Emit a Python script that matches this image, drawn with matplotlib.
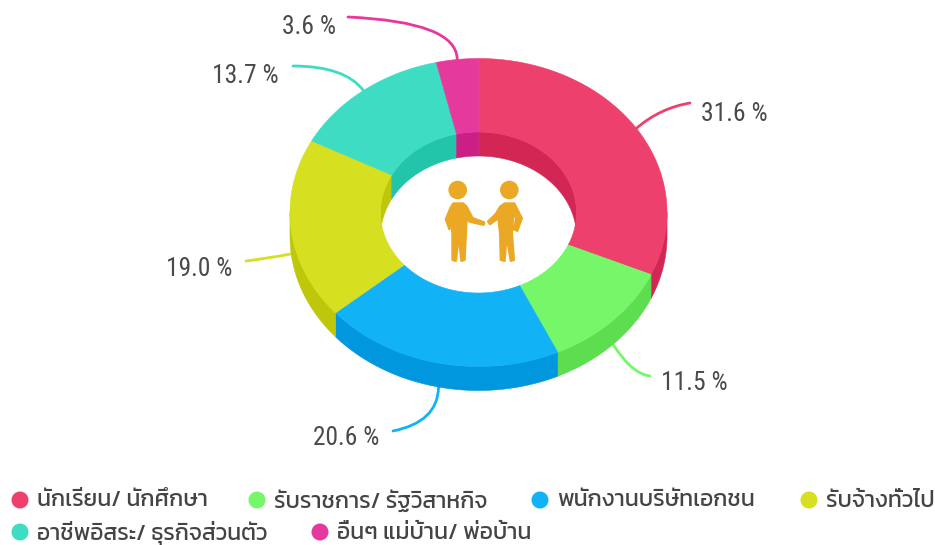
import numpy as np
import matplotlib
matplotlib.use("Agg")
import matplotlib.pyplot as plt
from matplotlib.patches import Polygon, Circle, PathPatch
from matplotlib.path import Path
import warnings, logging

logging.getLogger("matplotlib.font_manager").setLevel(logging.ERROR)
warnings.filterwarnings("ignore")

categories = ["นักเรียน/ นักศึกษา", "รับราชการ/ รัฐวิสาหกิจ", "พนักงานบริษัทเอกชน",
              "รับจ้างทั่วไป", "อาชีพอิสระ/ ธุรกิจส่วนตัว", "อื่นๆ แม่บ้าน/ พ่อบ้าน"]
values = [31.6, 11.5, 20.6, 19.0, 13.7, 3.6]
top_colors = ["#EE406C", "#76F76A", "#12B2F7", "#D6DF20", "#3EDDC3", "#E5399E"]
side_colors = ["#D22654", "#5DDD50", "#0097DE", "#BFC70A", "#22C4AA", "#CB1F85"]

# label left edge / centre y, leader elbow and end, all in pixels
label_pos = [(701, 114), (661, 383), (313, 438), (166, 269), (212, 76), (282, 27)]
leader_mid = [(660, 108), (632, 374), (438, 422), (270, 258), (345, 66), (457, 22)]
leader_end = [(690, 103), (650, 376), (393, 431), (246, 261), (293, 66), (348, 17)]
legend_pos = [(20, 500), (257, 500), (540, 500), (809, 500), (20, 532), (320, 532)]

cx, cy = 478.5, 212.5
rx, ry = 188.5, 154
irx, iry = 98, 80.5
depth = 24

thai_fonts = ["Kanit", "Prompt", "Noto Sans Thai", "Loma", "DejaVu Sans"]
num_fonts = ["Roboto Condensed", "Liberation Sans Narrow", "Roboto", "DejaVu Sans"]


def arc(a0, a1, w, h, dz=0):
    # angles are degrees clockwise from the top
    t = np.radians(np.linspace(a0, a1, max(int(abs(a1 - a0)) * 2, 2)))
    return np.column_stack([cx + w * np.sin(t), cy - h * np.cos(t) + dz])


def wall(ax, a0, a1, w, h, color, z):
    if a1 <= a0:
        return
    pts = np.vstack([arc(a0, a1, w, h), arc(a1, a0, w, h, depth)])
    ax.add_patch(Polygon(pts, fc=color, ec=color, lw=0.4, zorder=z))


fig = plt.figure(figsize=(9.35, 5.45), dpi=100)
ax = fig.add_axes([0, 0, 1, 1])
ax.set_xlim(0, 935)
ax.set_ylim(545, 0)
ax.axis("off")

edges = np.concatenate([[0], np.cumsum(values)]) * 360 / sum(values)

for i in range(len(values)):
    a0, a1 = edges[i], edges[i + 1]
    # inner wall only shows on the far side, outer wall on the near side
    wall(ax, max(a0, 270), min(a1, 360), irx, iry, side_colors[i], 1)
    wall(ax, a0, min(a1, 90), irx, iry, side_colors[i], 1)
    wall(ax, max(a0, 90), min(a1, 270), rx, ry, side_colors[i], 1)
    pts = np.vstack([arc(a0, a1, rx, ry), arc(a1, a0, irx, iry)])
    ax.add_patch(Polygon(pts, fc=top_colors[i], ec=top_colors[i], lw=0.4, zorder=2))

    # leader starts on the outer edge at the middle of the slice
    mid = (a0 + a1) / 2
    start = arc(mid, mid, rx, ry)[0]
    if 90 < mid < 270:
        start = start + [0, depth]
    path = Path([start, leader_mid[i], leader_end[i]], [Path.MOVETO, Path.CURVE3, Path.CURVE3])
    ax.add_patch(PathPatch(path, fc="none", ec=top_colors[i], lw=2, capstyle="round", zorder=0))
    ax.text(label_pos[i][0], label_pos[i][1], "%.1f %%" % values[i], family=num_fonts,
            fontsize=18.4, color="#4A4A4A", va="center", ha="left")

    ax.add_patch(Circle(legend_pos[i], 8.5, fc=top_colors[i], ec="none", zorder=3))
    ax.text(legend_pos[i][0] + 17, legend_pos[i][1] + 1, categories[i], family=thai_fonts,
            fontsize=16.5, fontweight="regular", color="#444444", va="center", ha="left")

# two people icon in the hole
icon = "#EBA825"
ax.add_patch(Circle((457.7, 190), 9.3, fc=icon, ec="none", zorder=3))
ax.add_patch(Circle((509.3, 190), 9.3, fc=icon, ec="none", zorder=3))
left_person = [(70, 100), (100, 100), (110, 110), (128, 144), (163, 157), (161, 165), (118, 155),
               (110, 145), (108, 190), (104, 270), (94, 273), (86, 200), (78, 273), (67, 270),
               (67, 190), (62, 150), (58, 178), (47, 148), (62, 112)]
right_person = [(224, 100), (253, 100), (276, 145), (262, 183), (252, 178), (258, 145), (250, 130),
                (246, 190), (252, 270), (242, 273), (230, 200), (224, 273), (212, 270), (210, 190),
                (205, 145), (180, 163), (174, 154), (197, 132), (210, 110)]
for person in [left_person, right_person]:
    pts = np.array(person) / 3 + [430, 170]
    ax.add_patch(Polygon(pts, fc=icon, ec=icon, lw=1.5, joinstyle="round", zorder=3))

fig.savefig("out.png", dpi=100)
